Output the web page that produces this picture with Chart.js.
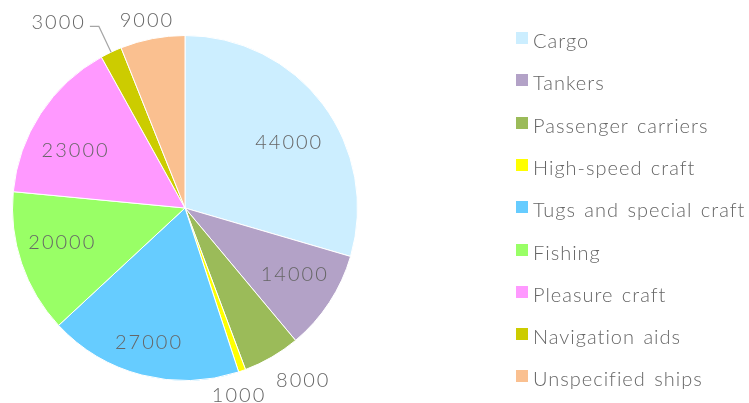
<!DOCTYPE html>
<html>
<head>
<meta charset="utf-8">
<script src="https://cdn.jsdelivr.net/npm/chart.js@4.4.1/dist/chart.umd.min.js"></script>
<style>
  html, body { margin: 0; padding: 0; background: #fff; }
  #wrap { position: relative; width: 749px; height: 403px; overflow: hidden; }
  #c { position: absolute; left: 0; top: 0; }
  #legend { position: absolute; left: 516px; top: 0; margin: 0; padding: 0; list-style: none; }
  #legend li { position: absolute; left: 0; white-space: nowrap; font-family: Lato, "Liberation Sans", sans-serif; font-weight: 300; font-size: 20px; color: #666; letter-spacing: 1px; word-spacing: 2px; line-height: 20px; }
  #legend .box { position: absolute; left: 0; top: 0; width: 12px; height: 12px; }
  #legend .txt { position: absolute; left: 17px; top: -2px; }
</style>
</head>
<body>
<div id="wrap">
  <canvas id="c" width="749" height="403"></canvas>
  <ul id="legend"></ul>
</div>
<script>
const categories = ["Cargo", "Tankers", "Passenger carriers", "High-speed craft", "Tugs and special craft", "Fishing", "Pleasure craft", "Navigation aids", "Unspecified ships"];
const shipCounts = [44000, 14000, 8000, 1000, 27000, 20000, 23000, 3000, 9000];
const sliceColors = ["#cceeff", "#b3a2c7", "#9bbb59", "#ffff00", "#66ccff", "#99ff66", "#ff99ff", "#cccc00", "#fac090"];

// label placement: [radius factor, angle delta in degrees] relative to each arc; "leader" uses a leader line
const labelPlacement = [[0.708, 4.5], [0.738, -1.9], [1.209, -4], [1.128, 3.5], [0.808, 0.9], [0.744, 3.3], [0.721, -5.8], "leader", [1.11, -0.9]];

const FONT = '300 20px Lato, "Liberation Sans", sans-serif';
const TEXT_COLOR = '#666';

const labelPlugin = {
  id: 'sliceLabels',
  afterDatasetsDraw(chart) {
    const ctx = chart.ctx;
    const meta = chart.getDatasetMeta(0);
    ctx.save();
    ctx.font = FONT;
    ctx.fillStyle = TEXT_COLOR;
    ctx.textBaseline = 'middle';
    try { ctx.letterSpacing = '2px'; } catch (e) {}
    meta.data.forEach((arc, i) => {
      const p = arc.getProps(['x', 'y', 'startAngle', 'endAngle', 'outerRadius'], true);
      const mid = (p.startAngle + p.endAngle) / 2;
      const R = p.outerRadius;
      const text = String(chart.data.datasets[0].data[i]);
      const place = labelPlacement[i];
      if (place === 'leader') {
        const sx = p.x + Math.cos(mid) * R, sy = p.y + Math.sin(mid) * R;
        const bx = p.x + Math.cos(mid) * R * 1.165, by = p.y + Math.sin(mid) * R * 1.165;
        const ex = bx - 9;
        ctx.strokeStyle = '#a6a6a6';
        ctx.lineWidth = 1.2;
        ctx.beginPath();
        ctx.moveTo(sx, sy);
        ctx.lineTo(bx, by);
        ctx.lineTo(ex, by);
        ctx.stroke();
        ctx.textAlign = 'right';
        ctx.fillText(text, ex - 4, by - 4);
      } else {
        const a = mid + place[1] * Math.PI / 180;
        const r = R * place[0];
        ctx.textAlign = 'center';
        ctx.fillText(text, p.x + Math.cos(a) * r + 1, p.y + Math.sin(a) * r);
      }
    });
    ctx.restore();
  }
};

const chart = new Chart(document.getElementById('c'), {
  type: 'pie',
  data: {
    labels: categories,
    datasets: [{
      data: shipCounts,
      backgroundColor: sliceColors,
      borderColor: '#ffffff',
      borderWidth: 1,
      hoverOffset: 0
    }]
  },
  options: {
    responsive: false,
    animation: false,
    layout: { padding: { left: 12, right: 749 - 358, top: 35, bottom: 22 } },
    plugins: {
      legend: { display: false },
      tooltip: { enabled: false }
    }
  },
  plugins: [labelPlugin]
});

// HTML legend built from the chart's data
const legendEl = document.getElementById('legend');
categories.forEach((name, i) => {
  const li = document.createElement('li');
  li.style.top = (32 + 42.3 * i) + 'px';
  const box = document.createElement('span');
  box.className = 'box';
  box.style.background = sliceColors[i];
  const txt = document.createElement('span');
  txt.className = 'txt';
  txt.textContent = name;
  li.appendChild(box);
  li.appendChild(txt);
  legendEl.appendChild(li);
});
</script>
</body>
</html>
